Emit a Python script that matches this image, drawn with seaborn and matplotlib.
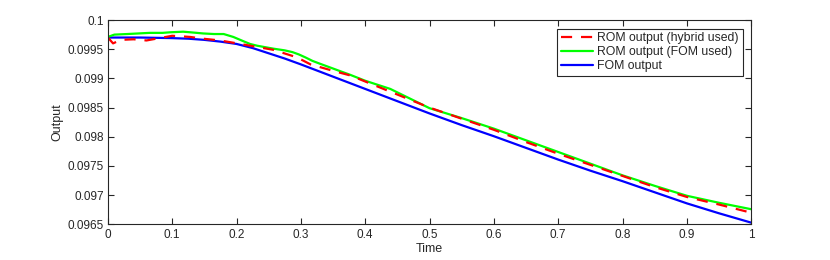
#!/usr/bin/env python3
# coding: utf-8

import numpy as np
import pandas as pd
import matplotlib
matplotlib.use("Agg")
import matplotlib.pyplot as plt
from matplotlib.ticker import FuncFormatter
import seaborn as sns

# FOM output (blue)
t_fom = [0.0, 0.05, 0.10, 0.125, 0.15, 0.175, 0.20, 0.225, 0.25, 0.275,
         0.30, 0.35, 0.40, 0.45, 0.50, 0.55, 0.60, 0.65, 0.70, 0.75,
         0.80, 0.85, 0.90, 0.95, 1.0]
y_fom = [0.09970, 0.09970, 0.09969, 0.09968, 0.09966, 0.09963, 0.09959,
         0.09952, 0.09943, 0.09934, 0.09924, 0.09903, 0.09882, 0.09861,
         0.09840, 0.09820, 0.09801, 0.09781, 0.09761, 0.09742, 0.09724,
         0.09705, 0.09686, 0.09669, 0.09653]

# ROM output, FOM used (green)
t_rom_fom = [0.0, 0.01, 0.03, 0.065, 0.085, 0.097, 0.117, 0.128, 0.148,
             0.165, 0.18, 0.195, 0.21, 0.221, 0.232, 0.257, 0.275, 0.287,
             0.297, 0.307, 0.318, 0.33, 0.377, 0.40, 0.439, 0.50, 0.55,
             0.60, 0.65, 0.70, 0.75, 0.80, 0.85, 0.90, 0.95, 1.0]
y_rom_fom = [0.09971, 0.09975, 0.09976, 0.09978, 0.09978, 0.09979, 0.09980,
             0.09979, 0.09977, 0.09976, 0.09976, 0.09971, 0.09964, 0.09959,
             0.09956, 0.09951, 0.09948, 0.09945, 0.09941, 0.09936, 0.09930,
             0.09925, 0.09906, 0.09896, 0.09882, 0.09849, 0.09832, 0.09814,
             0.09794, 0.09774, 0.09754, 0.09734, 0.09716, 0.09699, 0.09687,
             0.09676]

# ROM output, hybrid used (red dashed)
t_rom_hyb = [0.0, 0.008, 0.02, 0.04, 0.06, 0.08, 0.10, 0.128, 0.148, 0.174,
             0.201, 0.221, 0.257, 0.294, 0.315, 0.35, 0.377, 0.424, 0.50,
             0.55, 0.60, 0.65, 0.70, 0.75, 0.80, 0.85, 0.90, 0.95, 1.0]
y_rom_hyb = [0.09970, 0.09960, 0.09966, 0.09967, 0.09965, 0.09969, 0.09973,
             0.09971, 0.09968, 0.09965, 0.09960, 0.09956, 0.09949, 0.09936,
             0.09924, 0.09913, 0.09905, 0.09884, 0.09850, 0.09831, 0.09812,
             0.09791, 0.09771, 0.09752, 0.09733, 0.09714, 0.09697, 0.09684,
             0.09670]

x_ticks = [0, 0.1, 0.2, 0.3, 0.4, 0.5, 0.6, 0.7, 0.8, 0.9, 1]
y_ticks = [0.0965, 0.097, 0.0975, 0.098, 0.0985, 0.099, 0.0995, 0.1]

sns.set_style("ticks")
plt.rcParams['font.family'] = ['Liberation Sans', 'DejaVu Sans']
axis_col = "#262626"

fig = plt.figure(figsize=(8.3, 2.6), dpi=100)
ax = fig.add_axes([0.130, 0.137, 0.775, 0.786])

df_fom = pd.DataFrame({"t": t_fom, "y": y_fom})
df_rf = pd.DataFrame({"t": t_rom_fom, "y": y_rom_fom})
df_rh = pd.DataFrame({"t": t_rom_hyb, "y": y_rom_hyb})

sns.lineplot(data=df_fom, x="t", y="y", ax=ax, color="#0000ff", lw=1.6,
             label="FOM output")
sns.lineplot(data=df_rf, x="t", y="y", ax=ax, color="#00ff00", lw=1.6,
             label="ROM output (FOM used)")
sns.lineplot(data=df_rh, x="t", y="y", ax=ax, color="#ff0000", lw=1.6,
             dashes=False, label="ROM output (hybrid used)")
ax.lines[-1].set_dashes([5, 4])

ax.set_xlim(0, 1)
ax.set_ylim(0.0965, 0.1)
ax.set_xticks(x_ticks)
ax.set_yticks(y_ticks)
ax.xaxis.set_major_formatter(FuncFormatter(lambda v, p: f"{v:g}"))
ax.yaxis.set_major_formatter(FuncFormatter(lambda v, p: f"{v:g}"))
ax.tick_params(direction="in", length=4, width=0.8, top=True, right=True,
               labelsize=8.5, colors=axis_col, pad=3)
for s in ax.spines.values():
    s.set_visible(True)
    s.set_color(axis_col)
    s.set_linewidth(0.8)

ax.set_xlabel("Time", fontsize=9, color=axis_col, labelpad=2)
ax.set_ylabel("Output", fontsize=9, color=axis_col, labelpad=3)

handles, labels = ax.get_legend_handles_labels()
order = [2, 1, 0]
leg = ax.legend([handles[i] for i in order], [labels[i] for i in order],
                loc="upper right", fontsize=8.8, frameon=True, fancybox=False,
                framealpha=1, edgecolor=axis_col, handlelength=2.6,
                handletextpad=0.4, labelspacing=0.15, borderpad=0.3,
                borderaxespad=0.7)
leg.get_frame().set_linewidth(0.8)

fig.savefig("out.png", dpi=100)
